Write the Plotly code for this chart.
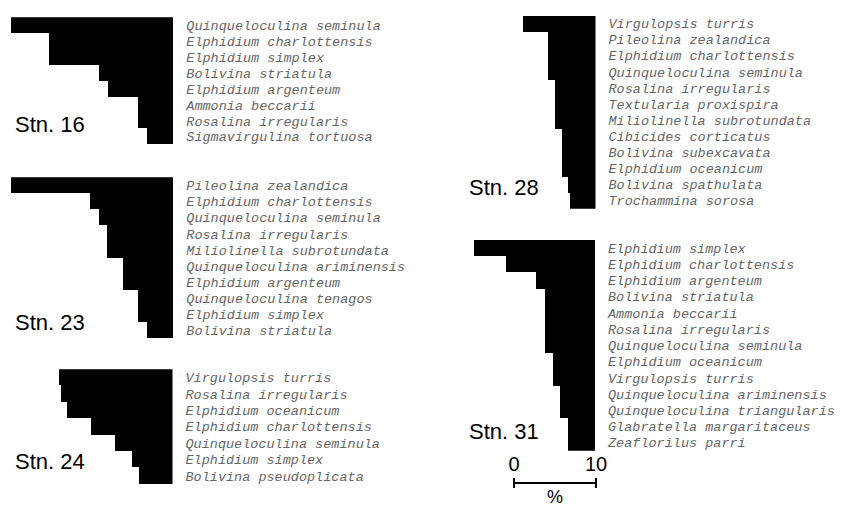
import plotly.graph_objects as go

# ---------------- data ----------------
stn16_species = ["Quinqueloculina seminula", "Elphidium charlottensis", "Elphidium simplex",
                 "Bolivina striatula", "Elphidium argenteum", "Ammonia beccarii",
                 "Rosalina irregularis", "Sigmavirgulina tortuosa"]
stn16_pct = [19.8, 15.1, 15.1, 9.1, 8.0, 4.3, 4.3, 3.2]

stn23_species = ["Pileolina zealandica", "Elphidium charlottensis", "Quinqueloculina seminula",
                 "Rosalina irregularis", "Miliolinella subrotundata", "Quinqueloculina ariminensis",
                 "Elphidium argenteum", "Quinqueloculina tenagos", "Elphidium simplex",
                 "Bolivina striatula"]
stn23_pct = [19.8, 10.1, 9.1, 8.1, 8.1, 6.1, 6.1, 4.3, 4.3, 3.2]

stn24_species = ["Virgulopsis turris", "Rosalina irregularis", "Elphidium oceanicum",
                 "Elphidium charlottensis", "Quinqueloculina seminula", "Elphidium simplex",
                 "Bolivina pseudoplicata"]
stn24_pct = [13.8, 13.6, 12.9, 10.0, 7.0, 4.9, 4.1]

stn28_species = ["Virgulopsis turris", "Pileolina zealandica", "Elphidium charlottensis",
                 "Quinqueloculina seminula", "Rosalina irregularis", "Textularia proxispira",
                 "Miliolinella subrotundata", "Cibicides corticatus", "Bolivina subexcavata",
                 "Elphidium oceanicum", "Bolivina spathulata", "Trochammina sorosa"]
stn28_pct = [8.8, 5.8, 5.8, 5.8, 4.9, 4.9, 4.9, 4.1, 4.1, 4.1, 3.3, 3.1]

stn31_species = ["Elphidium simplex", "Elphidium charlottensis", "Elphidium argenteum",
                 "Bolivina striatula", "Ammonia beccarii", "Rosalina irregularis",
                 "Quinqueloculina seminula", "Elphidium oceanicum", "Virgulopsis turris",
                 "Quinqueloculina ariminensis", "Quinqueloculina triangularis",
                 "Glabratella margaritaceus", "Zeaflorilus parri"]
stn31_pct = [14.8, 10.9, 7.2, 6.1, 6.1, 6.1, 6.1, 5.1, 5.1, 4.3, 4.3, 3.3, 3.3]

scale_ticks = [0, 10]

# ---------------- layout helpers ----------------
# the page body has an 8px margin, so the figure is drawn 8px smaller and
# all reference pixel positions are shifted by that offset
OFF = 8
W, H = 851 - OFF, 509 - OFF
PX_PER_PCT = 8.2


def fx(px):
    return (px - OFF) / W


def fy(py):
    return 1 - (py - OFF) / H


panels = [
    # name, species, values, bar right px, top px, bottom px, left px of axis, label x, label y
    ("Stn. 16", stn16_species, stn16_pct, 173.3, 17.3, 144.7, 8, 13, 125),
    ("Stn. 23", stn23_species, stn23_pct, 173.3, 177.3, 338.7, 8, 13, 322),
    ("Stn. 24", stn24_species, stn24_pct, 172.5, 369.3, 484.0, 8, 13, 461),
    ("Stn. 28", stn28_species, stn28_pct, 595.5, 15.5, 208.7, 440, 467, 188),
    ("Stn. 31", stn31_species, stn31_pct, 595.0, 240.0, 450.7, 440, 467, 431),
]

fig = go.Figure()
annotations = []
label_font = dict(family="Liberation Mono", size=13.5, color="#666666", style="italic")

for i, (name, species, vals, right, top, bottom, left, lx, ly) in enumerate(panels, start=1):
    xa = "x" if i == 1 else f"x{i}"
    ya = "y" if i == 1 else f"y{i}"
    n = len(species)
    idx = list(range(n))
    fig.add_trace(go.Bar(
        x=vals, y=idx, orientation="h", xaxis=xa, yaxis=ya,
        marker=dict(color="black", line=dict(width=0)),
        width=1.0, hoverinfo="skip", showlegend=False,
    ))
    xrange_max = (right - left) / PX_PER_PCT
    xkey = "xaxis" if i == 1 else f"xaxis{i}"
    ykey = "yaxis" if i == 1 else f"yaxis{i}"
    fig.update_layout(**{
        xkey: dict(domain=[fx(left), fx(right)], range=[xrange_max, 0], anchor=ya,
                   visible=False, fixedrange=True, automargin=False),
        ykey: dict(domain=[fy(bottom), fy(top)], range=[n - 0.5, -0.5], anchor=xa,
                   side="right", tickvals=idx, ticktext=species, ticks="",
                   showline=False, showgrid=False, zeroline=False, automargin=False,
                   tickfont=label_font, ticklabelstandoff=12, fixedrange=True),
    })
    annotations.append(dict(
        text=name, x=fx(lx), y=fy(ly), xref="paper", yref="paper",
        xanchor="left", yanchor="middle", showarrow=False,
        font=dict(family="Liberation Sans", size=22, color="black"),
    ))

# scale bar (0-10 %) drawn on its own axis with the same px/% scale
sb_left = 514
sb_right = sb_left + 10 * PX_PER_PCT
fig.add_trace(go.Scatter(
    x=scale_ticks, y=[0, 0], xaxis="x6", yaxis="y6", mode="lines+markers",
    line=dict(color="black", width=2),
    marker=dict(symbol="line-ns-open", size=7, line=dict(color="black", width=2)),
    cliponaxis=False, hoverinfo="skip", showlegend=False,
))
fig.update_layout(
    xaxis6=dict(domain=[fx(sb_left), fx(sb_right)], range=[0, 10], anchor="y6", side="top",
                tickvals=scale_ticks, ticktext=[str(t) for t in scale_ticks], ticks="",
                showline=False, showgrid=False, zeroline=False, ticklabelstandoff=6,
                automargin=False,
                tickfont=dict(family="Liberation Sans", size=20, color="black"), fixedrange=True),
    yaxis6=dict(domain=[fy(484), fy(482)], range=[-1, 1], anchor="x6",
                visible=False, fixedrange=True, automargin=False),
)
annotations.append(dict(
    text="%", x=fx((sb_left + sb_right) / 2), y=0, xref="paper", yref="paper",
    xanchor="center", yanchor="bottom", showarrow=False,
    font=dict(family="Liberation Sans", size=18, color="black"),
))

fig.update_layout(
    width=W, height=H,
    margin=dict(l=0, r=0, t=0, b=0),
    paper_bgcolor="white", plot_bgcolor="white",
    bargap=0, annotations=annotations,
)

fig.write_html("out.html", config={"displayModeBar": False})
